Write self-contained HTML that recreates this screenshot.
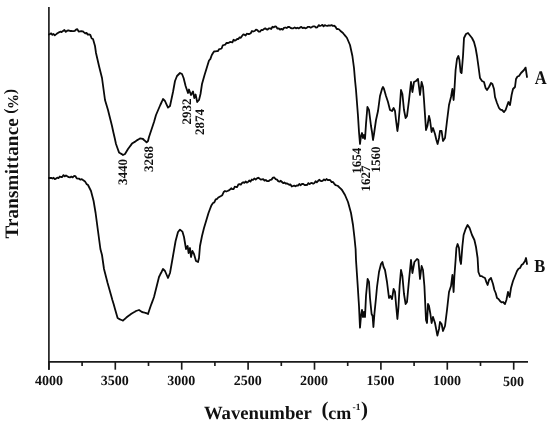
<!DOCTYPE html>
<html><head><meta charset="utf-8"><style>
html,body{margin:0;padding:0;background:#fff;}
body{width:550px;height:425px;overflow:hidden;}
svg{display:block;filter:grayscale(1);}
</style></head><body>
<svg width="550" height="425" viewBox="0 0 550 425">
<rect width="550" height="425" fill="#fff"/>
<g stroke="#1a1a1a" stroke-width="1.65" fill="none" stroke-linecap="butt">
<line x1="48.9" y1="6.9" x2="48.9" y2="369.7"/>
<line x1="48" y1="361.8" x2="528" y2="361.8"/>
<line x1="48.90" y1="361.8" x2="48.90" y2="369.7"/><line x1="82.10" y1="361.8" x2="82.10" y2="366"/><line x1="115.30" y1="361.8" x2="115.30" y2="369.7"/><line x1="148.50" y1="361.8" x2="148.50" y2="366"/><line x1="181.70" y1="361.8" x2="181.70" y2="369.7"/><line x1="214.90" y1="361.8" x2="214.90" y2="366"/><line x1="248.10" y1="361.8" x2="248.10" y2="369.7"/><line x1="281.30" y1="361.8" x2="281.30" y2="366"/><line x1="314.50" y1="361.8" x2="314.50" y2="369.7"/><line x1="347.70" y1="361.8" x2="347.70" y2="366"/><line x1="380.90" y1="361.8" x2="380.90" y2="369.7"/><line x1="414.10" y1="361.8" x2="414.10" y2="366"/><line x1="447.30" y1="361.8" x2="447.30" y2="369.7"/><line x1="480.50" y1="361.8" x2="480.50" y2="366"/><line x1="513.70" y1="361.8" x2="513.70" y2="369.7"/>
</g>
<g fill="none" stroke="#0a0a0a" stroke-width="1.8" stroke-linejoin="round" stroke-linecap="round">
<path d="M49.0,34.5 L50.0,34.0 L51.2,33.4 L52.4,34.9 L53.6,34.0 L54.8,35.3 L56.0,34.4 L57.4,33.3 L58.8,32.4 L60.2,31.7 L61.6,32.0 L63.0,31.0 L64.4,30.0 L65.8,31.9 L67.2,30.7 L68.6,30.3 L70.0,31.0 L71.2,30.9 L72.4,31.1 L73.6,31.2 L74.8,30.9 L76.0,29.6 L77.3,29.1 L78.7,31.6 L80.0,31.3 L81.3,31.1 L82.7,31.3 L84.0,32.4 L85.2,33.4 L86.5,32.9 L87.8,34.6 L89.0,34.4 L90.3,34.9 L91.7,38.5 L93.0,39.0 L95.0,46.0 L96.0,53.0 L97.5,59.5 L99.0,66.0 L100.5,72.0 L102.0,78.0 L103.5,89.0 L105.0,100.0 L106.5,105.0 L108.0,110.0 L109.3,115.3 L110.7,120.7 L112.0,126.0 L113.3,132.0 L114.7,138.0 L116.0,144.0 L117.5,148.2 L119.0,152.4 L120.3,153.3 L121.7,154.1 L123.0,155.0 L125.0,154.0 L126.5,151.5 L128.0,149.0 L129.3,147.2 L130.7,145.4 L132.0,143.6 L133.3,142.7 L134.7,141.9 L136.0,141.0 L137.3,140.1 L138.7,139.3 L140.0,138.4 L141.5,138.7 L143.0,139.0 L144.0,140.0 L145.3,141.2 L146.6,142.4 L148.0,141.0 L149.0,137.0 L150.5,132.5 L152.0,128.0 L154.0,122.0 L156.0,115.0 L157.5,111.5 L159.0,108.0 L160.3,105.0 L161.7,102.0 L163.0,99.0 L165.0,101.0 L166.5,104.3 L168.0,107.6 L170.0,106.0 L171.5,99.0 L173.0,92.0 L175.0,81.0 L177.0,76.0 L178.5,74.5 L180.0,73.0 L182.0,74.0 L183.6,78.0 L185.6,86.0 L186.8,89.5 L188.0,93.0 L189.0,89.5 L191.0,95.0 L193.0,91.5 L194.3,98.0 L195.6,94.5 L197.2,102.0 L199.0,100.0 L200.5,94.0 L202.0,84.0 L203.2,79.7 L204.4,75.4 L206.7,68.0 L209.0,60.5 L210.3,59.1 L211.7,55.2 L213.0,53.0 L214.2,51.4 L215.5,51.3 L216.8,51.1 L218.0,51.0 L219.2,49.1 L220.4,48.9 L221.6,48.5 L222.8,45.3 L224.0,45.0 L225.2,44.7 L226.4,42.9 L227.6,43.0 L228.8,42.8 L230.0,42.0 L231.2,42.1 L232.4,42.3 L233.6,39.7 L234.8,40.7 L236.0,40.0 L237.2,39.0 L238.4,39.0 L239.6,37.3 L240.8,37.8 L242.0,36.0 L243.2,34.5 L244.4,34.7 L245.6,35.5 L246.8,33.7 L248.0,34.0 L249.3,34.0 L250.7,33.2 L252.0,31.0 L253.3,31.5 L254.7,31.0 L256.0,29.6 L257.3,30.1 L258.7,31.7 L260.0,31.6 L261.3,30.0 L262.7,30.1 L264.0,29.0 L265.2,28.3 L266.4,29.3 L267.6,29.5 L268.8,28.3 L270.0,28.4 L271.2,29.0 L272.5,26.8 L273.8,27.4 L275.0,26.4 L276.2,26.7 L277.5,28.7 L278.8,28.3 L280.0,29.6 L281.3,28.9 L282.7,29.6 L284.0,27.9 L285.3,27.5 L286.7,28.0 L288.0,27.0 L289.3,26.9 L290.7,28.0 L292.0,28.3 L293.3,28.3 L294.7,27.4 L296.0,28.4 L297.3,27.7 L298.7,28.4 L300.0,27.6 L301.3,26.9 L302.7,28.2 L304.0,27.6 L305.3,28.3 L306.7,27.9 L308.0,26.8 L309.3,26.8 L310.7,27.7 L312.0,27.0 L313.3,26.3 L314.7,26.3 L316.0,27.5 L317.3,27.4 L318.7,25.1 L320.0,26.0 L321.2,25.5 L322.4,24.9 L323.6,26.4 L324.8,25.2 L326.0,25.6 L327.4,25.9 L328.8,25.3 L330.2,25.6 L331.6,25.1 L333.0,26.0 L334.2,25.7 L335.5,26.8 L336.8,29.1 L338.0,29.0 L339.2,29.5 L340.5,31.0 L341.8,32.0 L343.0,33.0 L344.3,34.7 L345.7,36.3 L347.0,38.0 L348.5,41.5 L350.0,45.0 L352.4,56.0 L354.0,68.0 L355.0,80.0 L356.0,90.0 L358.0,116.0 L359.0,132.0 L360.0,144.0 L361.0,136.0 L362.0,133.0 L363.0,138.0 L364.0,135.0 L365.0,139.0 L366.0,124.0 L367.4,107.0 L369.0,110.0 L371.0,126.0 L372.0,132.0 L373.0,140.0 L374.0,134.0 L376.0,120.0 L378.0,111.0 L380.0,96.0 L382.0,89.0 L383.0,87.0 L384.0,89.0 L386.0,96.0 L388.0,102.0 L390.0,110.0 L392.0,111.0 L393.6,108.0 L395.0,111.0 L396.0,120.0 L397.4,131.0 L398.4,124.0 L399.6,110.0 L401.0,90.0 L402.4,94.0 L404.0,110.0 L405.6,118.0 L407.0,116.0 L409.0,100.0 L411.0,82.0 L412.4,92.0 L414.0,82.0 L416.0,81.0 L418.0,79.0 L420.0,95.0 L421.6,82.0 L423.0,87.0 L424.0,100.0 L426.0,130.0 L427.4,126.0 L429.0,116.0 L430.0,120.0 L431.6,132.0 L433.0,128.0 L435.0,134.0 L436.4,140.0 L437.6,144.0 L439.0,138.0 L440.0,131.0 L441.6,131.0 L443.0,141.0 L445.0,138.0 L447.0,121.0 L449.0,105.0 L451.0,97.0 L452.4,89.0 L453.6,100.0 L454.4,90.0 L455.6,70.0 L457.0,59.0 L458.4,56.0 L459.4,60.0 L460.6,72.0 L461.6,73.0 L463.0,56.0 L464.0,38.0 L466.0,34.0 L468.0,33.0 L469.6,35.0 L472.0,38.0 L474.0,42.0 L475.6,48.0 L477.0,56.0 L478.4,66.0 L480.0,78.0 L482.0,81.0 L484.0,82.0 L485.6,88.0 L487.0,90.0 L489.0,87.0 L491.0,83.0 L492.4,84.0 L494.0,89.0 L495.0,97.0 L497.0,103.0 L499.0,108.0 L500.5,109.7 L502.0,110.0 L504.0,112.0 L505.6,110.0 L507.0,106.0 L508.4,102.0 L510.0,105.0 L511.6,95.0 L513.0,89.0 L515.0,87.0 L516.0,79.0 L517.5,76.5 L519.0,76.0 L521.0,73.0 L523.0,71.0 L524.0,70.0 L525.6,67.6 L527.0,77.0"/>
<path d="M49.0,178.0 L50.0,178.0 L51.2,177.8 L52.4,178.5 L53.6,177.8 L54.8,179.1 L56.0,178.6 L57.2,177.6 L58.5,178.1 L59.8,176.5 L61.0,177.0 L62.2,177.0 L63.5,175.1 L64.8,176.4 L66.0,175.4 L67.3,176.3 L68.7,177.2 L70.0,177.4 L71.3,176.6 L72.7,177.4 L74.0,176.0 L75.3,176.1 L76.7,178.3 L78.0,178.6 L79.2,178.7 L80.5,179.7 L81.8,179.1 L83.0,180.0 L85.0,181.4 L86.5,183.9 L88.0,185.0 L89.5,188.0 L91.0,191.0 L92.3,196.0 L93.6,201.0 L95.6,213.0 L96.8,222.0 L98.0,231.0 L99.2,240.0 L100.4,249.0 L102.0,255.0 L104.0,269.0 L105.8,276.0 L107.6,283.0 L109.3,289.0 L111.0,295.0 L112.3,299.7 L113.7,304.3 L115.0,309.0 L116.3,313.5 L117.6,318.0 L118.8,318.7 L120.0,319.4 L121.5,320.0 L123.0,320.6 L124.3,319.4 L125.7,318.2 L127.0,317.0 L128.3,316.0 L129.7,315.0 L131.0,314.0 L132.2,313.2 L133.5,312.5 L134.8,311.8 L136.0,311.0 L137.5,310.5 L139.0,310.0 L140.5,311.0 L142.0,312.0 L143.3,312.3 L144.7,312.7 L146.0,313.0 L148.0,314.0 L150.0,308.0 L151.3,304.3 L152.7,300.7 L154.0,297.0 L155.5,291.0 L157.0,285.0 L159.0,277.0 L160.3,274.3 L161.7,271.7 L163.0,269.0 L165.0,271.0 L166.5,274.5 L168.0,278.0 L170.0,273.0 L171.5,264.5 L173.0,256.0 L174.3,248.5 L175.6,241.0 L176.8,236.5 L178.0,232.0 L180.0,229.6 L181.2,230.6 L182.4,231.6 L184.0,237.0 L186.0,249.0 L187.6,246.0 L188.6,253.0 L190.0,248.0 L191.0,257.0 L192.4,251.0 L194.0,254.0 L196.0,261.0 L198.0,262.0 L199.0,258.0 L200.0,246.0 L202.0,236.0 L204.0,228.0 L205.5,223.0 L207.0,218.0 L208.5,213.0 L210.0,209.0 L211.5,205.2 L213.0,203.0 L214.3,202.4 L215.7,199.3 L217.0,199.0 L218.3,197.5 L219.7,196.7 L221.0,196.0 L222.3,195.2 L223.7,192.0 L225.0,191.0 L226.2,191.5 L227.5,191.0 L228.8,190.4 L230.0,189.6 L231.2,188.3 L232.4,189.2 L233.6,189.1 L234.8,186.7 L236.0,187.0 L237.2,187.0 L238.4,184.3 L239.6,184.1 L240.8,184.6 L242.0,183.0 L243.2,182.2 L244.4,182.9 L245.6,181.5 L246.8,182.6 L248.0,182.0 L249.2,180.5 L250.5,181.6 L251.8,179.5 L253.0,180.0 L254.3,178.5 L255.7,179.5 L257.0,178.4 L258.2,177.7 L259.5,178.6 L260.8,179.6 L262.0,179.4 L263.2,179.2 L264.5,180.6 L265.8,180.0 L267.0,181.0 L268.5,181.2 L270.0,180.0 L271.5,179.6 L273.0,177.6 L274.3,177.5 L275.7,179.2 L277.0,179.6 L278.2,181.1 L279.5,181.7 L280.8,180.8 L282.0,182.0 L283.2,183.2 L284.4,182.5 L285.6,183.5 L286.8,183.4 L288.0,184.0 L289.2,184.8 L290.5,184.5 L291.8,186.5 L293.0,186.0 L294.2,185.6 L295.5,186.3 L296.8,185.4 L298.0,185.6 L299.3,184.0 L300.7,185.2 L302.0,184.0 L303.3,184.0 L304.7,185.1 L306.0,185.0 L307.2,184.9 L308.4,183.1 L309.6,184.1 L310.8,183.2 L312.0,183.0 L313.2,183.7 L314.4,183.0 L315.6,181.3 L316.8,182.3 L318.0,181.0 L319.2,179.8 L320.4,180.8 L321.6,181.1 L322.8,180.6 L324.0,179.4 L325.2,180.4 L326.5,179.0 L327.8,180.1 L329.0,180.0 L330.3,180.2 L331.7,182.2 L333.0,182.0 L334.2,183.6 L335.5,185.1 L336.8,185.5 L338.0,186.0 L339.3,187.3 L340.7,188.7 L342.0,190.0 L343.5,192.5 L345.0,195.0 L346.5,198.5 L348.0,202.0 L349.5,207.5 L351.0,213.0 L353.0,225.0 L354.4,237.0 L355.6,249.0 L356.0,260.0 L357.6,284.0 L359.0,306.0 L360.0,327.6 L361.0,316.0 L362.0,310.0 L363.0,317.0 L364.0,312.0 L365.0,317.0 L366.0,296.0 L367.6,279.0 L369.0,282.0 L370.0,298.0 L371.6,314.0 L372.6,316.0 L373.4,327.0 L374.4,314.0 L376.0,298.0 L377.0,287.0 L379.0,272.0 L381.0,264.0 L382.4,262.0 L383.6,267.0 L385.0,270.0 L387.0,282.0 L388.0,290.0 L389.0,298.0 L390.4,296.0 L392.0,299.0 L393.6,289.0 L395.0,292.0 L396.0,304.0 L397.4,319.0 L398.4,308.0 L399.6,286.0 L401.0,270.0 L402.4,276.0 L404.0,294.0 L405.6,304.0 L407.0,302.0 L409.0,280.0 L411.0,260.0 L412.4,273.0 L414.4,262.0 L415.7,260.5 L417.0,259.0 L418.4,260.0 L420.0,279.0 L421.6,266.0 L423.0,270.0 L424.4,286.0 L426.0,320.0 L427.0,323.0 L428.0,304.0 L429.0,306.0 L430.4,314.0 L431.6,323.0 L433.0,317.0 L435.0,323.0 L437.4,335.6 L439.0,329.0 L440.0,322.0 L441.6,324.0 L443.0,331.0 L445.0,326.0 L447.0,310.0 L449.0,292.0 L451.0,286.0 L452.4,275.0 L453.6,292.0 L454.4,276.0 L455.6,260.0 L456.4,248.0 L457.6,244.0 L459.0,248.0 L460.0,260.0 L461.0,264.0 L462.4,246.0 L463.6,235.0 L465.6,229.0 L467.6,225.0 L469.6,228.0 L472.0,235.0 L474.4,240.0 L476.0,247.0 L477.6,258.0 L478.4,272.0 L480.0,276.0 L481.5,276.1 L483.0,277.0 L485.0,278.0 L486.3,281.9 L487.6,285.0 L489.0,280.0 L491.0,278.0 L493.0,284.0 L494.4,290.0 L495.7,293.0 L497.0,298.0 L498.5,298.9 L500.0,301.0 L501.5,302.4 L503.0,302.0 L505.0,304.0 L506.4,300.0 L508.0,292.0 L509.6,297.0 L511.0,288.0 L513.0,281.0 L515.0,276.0 L517.0,271.0 L518.5,268.7 L520.0,268.0 L521.5,265.1 L523.0,264.0 L525.0,261.0 L526.0,258.0 L527.0,264.0"/>
</g>
<g font-family="Liberation Serif" font-weight="bold" fill="#111" text-rendering="geometricPrecision">
<text font-size="14" x="34.95" y="385.40">4000</text>
<text font-size="14" x="100.70" y="385.40">3500</text>
<text font-size="14" x="167.30" y="385.40">3000</text>
<text font-size="14" x="233.70" y="385.40">2500</text>
<text font-size="14" x="300.10" y="385.40">2000</text>
<text font-size="14" x="366.50" y="385.40">1500</text>
<text font-size="14" x="432.90" y="385.40">1000</text>
<text font-size="14" x="503.00" y="385.50">500</text>
<text font-size="17" transform="translate(534.75,83.85) scale(0.97,1.13)">A</text>
<text font-size="17" transform="translate(534.20,271.90) scale(0.97,1.07)">B</text>
<text font-size="18.7" x="203.95" y="419.25">Wavenumber</text>
<text font-size="21" x="321.45" y="416.25">(</text>
<text font-size="18" x="328.30" y="419.40">cm</text>
<text font-size="9.5" x="352.50" y="409.55">-1</text>
<text font-size="21" x="360.90" y="416.25">)</text>
<text font-size="19" letter-spacing="0.2" transform="translate(18.05,238.55) rotate(-90)">Transmittance</text>
<text font-size="16" transform="translate(15.05,113.70) rotate(-90)">(</text>
<text font-size="15" transform="translate(17.50,109.05) rotate(-90)">%</text>
<text font-size="16" transform="translate(15.05,94.35) rotate(-90)">)</text>
<text font-size="13" transform="translate(127.00,185.00) rotate(-90)">3440</text>
<text font-size="13" transform="translate(152.90,172.05) rotate(-90)">3268</text>
<text font-size="13" transform="translate(191.00,124.50) rotate(-90)">2932</text>
<text font-size="13" transform="translate(203.60,135.05) rotate(-90)">2874</text>
<text font-size="13" transform="translate(361.00,173.75) rotate(-90)">1654</text>
<text font-size="13" transform="translate(369.70,191.50) rotate(-90)">1627</text>
<text font-size="13" transform="translate(380.05,172.55) rotate(-90)">1560</text>
</g>
</svg>
</body></html>
